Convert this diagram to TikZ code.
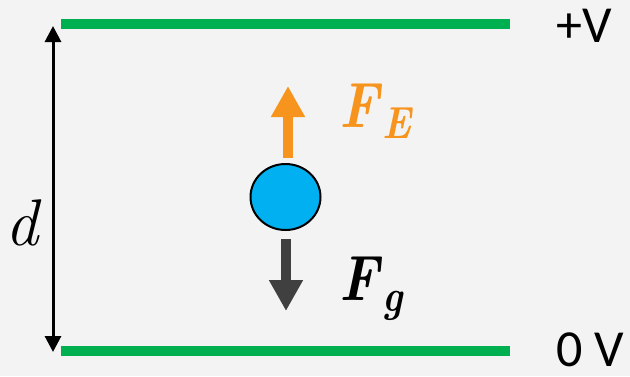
\documentclass[tikz,border=0pt]{standalone}
\usepackage{fontspec}
\newfontfamily\labfont{Carlito}
\usetikzlibrary{arrows.meta,shapes.geometric}
\definecolor{plategreen}{HTML}{00B050}
\definecolor{forceorange}{HTML}{F7941D}
\definecolor{ballblue}{HTML}{00B0F0}
\definecolor{forcegray}{HTML}{404040}
\definecolor{bggray}{HTML}{F3F3F3}
\tikzset{
  plate/.style={draw=plategreen, line width=10pt, line cap=butt},
  dimarrow/.style={draw=black, line width=3pt,
    {Triangle[length=16pt,width=16pt]}-{Triangle[length=16pt,width=16pt]}},
  forcearrow/.style={line width=10pt, -{Triangle[length=31pt,width=32pt]}},
  ball/.style={ellipse, draw=black, line width=2pt, fill=ballblue,
    minimum width=70pt, minimum height=66pt, inner sep=0pt},
  voltlabel/.style={anchor=base west, inner sep=0pt, text depth=0pt, font=\labfont\fontsize{52}{52}\selectfont},
  forcelabel/.style={anchor=base west, inner sep=0pt}
}
\newcommand{\forcetext}[1]{\scalebox{0.85}[1]{\bfseries\itshape{\fontsize{64}{64}\selectfont F}\kern4pt\raisebox{-11pt}{\fontsize{45}{45}\selectfont #1}}}
\begin{document}
\begin{tikzpicture}[x=1pt,y=-1pt]
\fill[bggray] (0,0) rectangle (630,376);
\useasboundingbox (0,0) rectangle (630,376);
% plates
\coordinate (topL) at (61,24);
\coordinate (topR) at (510,24);
\coordinate (botL) at (61,351);
\coordinate (botR) at (510,351);
\draw[plate] (topL) -- (topR);
\draw[plate] (botL) -- (botR);
% distance
\coordinate (dtop) at (53,26);
\coordinate (dbot) at (53,352);
\draw[dimarrow] (dtop) -- (dbot);
\node[anchor=base west, inner sep=0pt, font=\itshape\fontsize{66}{66}\selectfont] (dlab) at (5,245) {d};
% ball
\node[ball] (ball) at (285.5,197) {};
\coordinate (fetail) at ([xshift=2.5pt,yshift=5pt]ball.north);
\coordinate (fetip) at ([xshift=2.5pt,yshift=77pt]ball.north);
\draw[forcearrow, draw=forceorange, fill=forceorange] (fetail) -- (fetip);
\coordinate (fgtail) at ([xshift=0.5pt,yshift=-8pt]ball.south);
\coordinate (fgtip) at ([xshift=0.5pt,yshift=-80pt]ball.south);
\draw[forcearrow, draw=forcegray, fill=forcegray] (fgtail) -- (fgtip);
% labels
\node[forcelabel, text=forceorange] (FE) at (339,127) {\forcetext{E}};
\node[forcelabel, text=black] (Fg) at (339,300) {\forcetext{g}};
\node[voltlabel] (plusV) at (556,42) {+V};
\node[voltlabel] (zeroV) at (556,366) {0 V};
\end{tikzpicture}
\end{document}
